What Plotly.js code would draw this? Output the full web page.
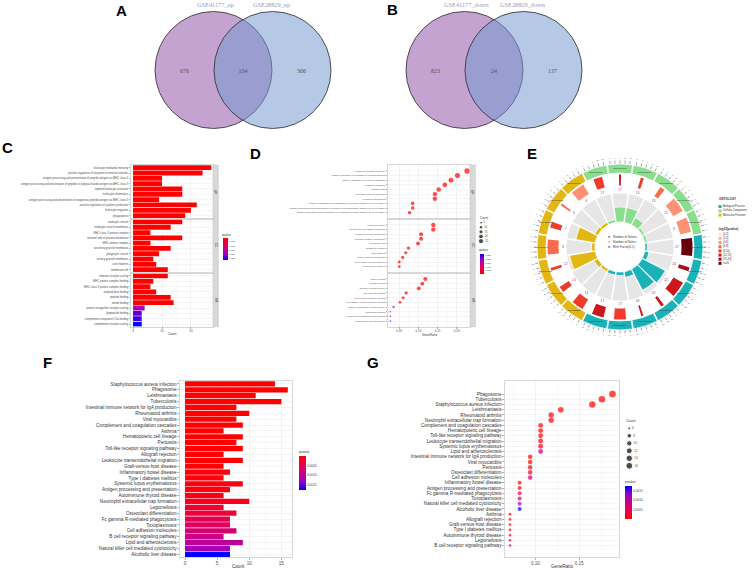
<!DOCTYPE html>
<html><head><meta charset="utf-8">
<script src="https://cdn.plot.ly/plotly-3.0.1.min.js"></script>
<style>html,body{margin:0;padding:0;background:#fff}#chart{width:753px;height:570px}</style>
</head><body><div id="chart"></div>
<script>
// ================= DATA =================
// A / B : Venn diagrams  [left only, overlap, right only]
const vennUpNames = ['GSE41177_up', 'GSE28829_up'];
const vennUpValues = [676, 104, 306];
const vennDownNames = ['GSE41177_down', 'GSE28829_down'];
const vennDownValues = [823, 24, 137];

// C : GO enrichment barplot (order as drawn, top to bottom)
const goFacetNames = ['BP', 'CC', 'MF'];
const goBPTerms = ['leukocyte mediated immunity','positive regulation of response to external stimulus','antigen processing and presentation of peptide antigen via MHC class II','antigen processing and presentation of peptide or polysaccharide antigen via MHC class II','myeloid leukocyte activation','leukocyte chemotaxis','antigen processing and presentation of exogenous peptide antigen via MHC class II','positive regulation of cytokine production','leukocyte migration','phagocytosis'];
const goBPCounts = [27, 24, 10, 10, 17, 17, 9, 22, 20, 18];
const goBPQ = [2e-12, 5e-11, 8e-11, 1e-10, 3e-10, 5e-10, 8e-10, 1e-9, 2e-9, 3e-9];
const goCCTerms = ['endocytic vesicle','endocytic vesicle membrane','MHC class II protein complex','external side of plasma membrane','MHC protein complex','secretory granule membrane','phagocytic vesicle','tertiary granule membrane','actin filament','membrane raft'];
const goCCCounts = [17, 13, 6, 17, 6, 13, 9, 7, 8, 12];
const goCCQ = [1e-9, 2e-9, 4e-9, 8e-9, 1.5e-8, 3e-8, 6e-8, 1e-7, 2e-7, 4e-7];
const goMFTerms = ['immune receptor activity','MHC protein complex binding','MHC class II protein complex binding','amyloid-beta binding','peptide binding','amide binding','pattern recognition receptor activity','lipopeptide binding','complement component C5a binding','complement receptor activity'];
const goMFCounts = [12, 7, 6, 8, 13, 14, 4, 3, 3, 3];
const goMFQ = [1e-6, 2e-6, 4e-6, 1e-5, 3e-5, 5e-5, 0.0185, 0.0228, 0.0238, 0.0268];

// D : GO dotplot (order by GeneRatio)
const dotBPTerms = ['leukocyte mediated immunity','positive regulation of response to external stimulus','positive regulation of cytokine production','leukocyte migration','phagocytosis','myeloid leukocyte activation','leukocyte chemotaxis','antigen processing and presentation of peptide antigen via MHC class II','antigen processing and presentation of peptide or polysaccharide antigen via MHC class II','antigen processing and presentation of exogenous peptide antigen via MHC class II'];
const dotBPRatio = [0.227, 0.202, 0.185, 0.169, 0.153, 0.143, 0.143, 0.085, 0.085, 0.077];
const dotCCTerms = ['endocytic vesicle','external side of plasma membrane','endocytic vesicle membrane','secretory granule membrane','membrane raft','phagocytic vesicle','actin filament','tertiary granule membrane','MHC class II protein complex','MHC protein complex'];
const dotCCRatio = [0.139, 0.139, 0.107, 0.107, 0.099, 0.074, 0.067, 0.059, 0.050, 0.050];
const dotMFTerms = ['amide binding','peptide binding','immune receptor activity','amyloid-beta binding','MHC protein complex binding','MHC class II protein complex binding','pattern recognition receptor activity','lipopeptide binding','complement component C5a binding','complement receptor activity'];
const dotMFRatio = [0.118, 0.110, 0.101, 0.068, 0.060, 0.052, 0.035, 0.027, 0.027, 0.027];
const dotCountLegend = [5, 10, 15, 20, 25];

// E : circular GO plot (clockwise)
const circIds = ['GO:0030139','GO:0009897','GO:0030666','GO:0030667','GO:0045121','GO:0030670','GO:0002443','GO:0032103','GO:0001819','GO:0050900','GO:0006909','GO:0002274','GO:0030595','GO:0033218','GO:0042277','GO:0140375','GO:0001540','GO:0023023','GO:0042605','GO:0001848'];
const circOntology = ['CC','CC','CC','CC','CC','CC','BP','BP','BP','BP','BP','BP','BP','MF','MF','MF','MF','MF','MF','MF'];
const circRich = [0.10, 0.52, 0.52, 0.28, 0.10, 0.10, 0.08, 0.15, 0.90, 0.82, 0.20, 0.12, 0.12, 0.10, 0.15, 0.90, 0.12, 0.68, 0.12, 0.10];
const circSelect = [0.45, 0.10, 0.15, 0.25, 0.75, 0.75, 0.90, 0.20, 0.80, 0.15, 0.10, 0.60, 0.60, 0.60, 0.30, 0.15, 0.75, 0.30, 0.10, 0.70];
const circPBin = [4, 5, 4, 3, 2, 2, 7, 6, 5, 5, 5, 4, 5, 4, 4, 4, 3, 4, 3, 2];
const circCount = [17, 17, 13, 13, 12, 6, 27, 24, 22, 20, 18, 17, 17, 14, 13, 12, 8, 7, 6, 4];
const ontologyNames = ['Biological Process', 'Cellular Component', 'Molecular Function'];
const ontologyKeys = ['BP', 'CC', 'MF'];
const pBinLabels = ['(0,2]', '(2,4]', '(4,6]', '(6,8]', '(8,10]', '(10,15]', '(15,20]', '>=20'];
const centerLegend = ['Number of Genes', 'Number of Select', 'Rich Factor(0-1)'];

// F / G : KEGG enrichment (F order, top to bottom)
const keggTerms = ['Staphylococcus aureus infection','Phagosome','Leishmaniasis','Tuberculosis','Intestinal immune network for IgA production','Rheumatoid arthritis','Viral myocarditis','Complement and coagulation cascades','Asthma','Hematopoietic cell lineage','Pertussis','Toll-like receptor signaling pathway','Allograft rejection','Leukocyte transendothelial migration','Graft-versus-host disease','Inflammatory bowel disease','Type I diabetes mellitus','Systemic lupus erythematosus','Antigen processing and presentation','Autoimmune thyroid disease','Neutrophil extracellular trap formation','Legionellosis','Osteoclast differentiation','Fc gamma R-mediated phagocytosis','Toxoplasmosis','Cell adhesion molecules','B cell receptor signaling pathway','Lipid and atherosclerosis','Natural killer cell mediated cytotoxicity','Alcoholic liver disease'];
const keggCounts = [14, 16, 11, 15, 8, 10, 8, 9, 6, 9, 8, 9, 6, 9, 6, 7, 6, 9, 7, 6, 10, 6, 8, 7, 7, 8, 6, 9, 7, 7];
const keggRatio = [0.165, 0.188, 0.129, 0.176, 0.094, 0.118, 0.094, 0.106, 0.071, 0.106, 0.094, 0.106, 0.071, 0.106, 0.071, 0.082, 0.071, 0.106, 0.082, 0.071, 0.118, 0.071, 0.094, 0.082, 0.082, 0.094, 0.071, 0.106, 0.082, 0.082];
const keggPvalue = [1e-9, 2e-9, 5e-8, 1e-7, 3e-7, 5e-7, 1e-6, 2e-6, 4e-6, 6e-6, 9e-6, 1.2e-5, 2e-5, 2.5e-5, 3.5e-5, 5e-5, 6e-5, 7e-5, 9e-5, 1.2e-4, 1.5e-4, 2.5e-4, 3.2e-4, 4.5e-4, 5.5e-4, 7e-4, 8.5e-4, 1.0e-3, 1.2e-3, 1.76e-3];
const keggDotOrder = ['Phagosome','Tuberculosis','Staphylococcus aureus infection','Leishmaniasis','Rheumatoid arthritis','Neutrophil extracellular trap formation','Complement and coagulation cascades','Hematopoietic cell lineage','Toll-like receptor signaling pathway','Leukocyte transendothelial migration','Systemic lupus erythematosus','Lipid and atherosclerosis','Intestinal immune network for IgA production','Viral myocarditis','Pertussis','Osteoclast differentiation','Cell adhesion molecules','Inflammatory bowel disease','Antigen processing and presentation','Fc gamma R-mediated phagocytosis','Toxoplasmosis','Natural killer cell mediated cytotoxicity','Alcoholic liver disease','Asthma','Allograft rejection','Graft-versus-host disease','Type I diabetes mellitus','Autoimmune thyroid disease','Legionellosis','B cell receptor signaling pathway'];
const keggCountLegend = [6, 8, 10, 12, 14, 16];

// ================= HELPERS / STYLE =================
const W = 753, H = 570;
const PX = v => v / W;
const PY = v => 1 - v / H;
const domX = (a, b) => [a / W, b / W];
const domY = (top, bot) => [1 - bot / H, 1 - top / H];
const FONT = 'Arial, "Liberation Sans", sans-serif';
const SERIF = '"Times New Roman", "Liberation Serif", serif';
const RB = [[0,'#FF0000'],[0.25,'#E8004F'],[0.5,'#CA0088'],[0.75,'#9A00C3'],[1,'#0000FF']];
const BR = RB.map(([t, c]) => [1 - t, c]).reverse();
const ontoColor = {BP: '#1ab1b7', CC: '#8ade8d', MF: '#e2b714'};
const pBinColors = ['#fee0d2','#fcbba1','#fc9272','#fb6a4a','#ef3b2c','#cb181d','#a50f15','#67000d'];

const traces = [];
const annotations = [];
const shapes = [];
function ann(text, x, y, size, extra) {
  annotations.push(Object.assign({text, x: PX(x), y: PY(y), xref: 'paper', yref: 'paper', showarrow: false,
    font: {size, family: FONT, color: '#333'}, xanchor: 'center', yanchor: 'middle'}, extra || {}));
}
const baseAx = {showline: true, mirror: true, linecolor: '#bdbdbd', linewidth: 0.6, gridcolor: '#ebebeb', gridwidth: 0.5,
  zeroline: false, ticks: 'outside', ticklen: 1.5, tickwidth: 0.5, tickcolor: '#666', fixedrange: true};
const layout = {
  width: W, height: H, margin: {l: 0, r: 0, t: 0, b: 0}, paper_bgcolor: '#fff', plot_bgcolor: 'rgba(0,0,0,0)',
  showlegend: false, font: {family: FONT, color: '#333'}, bargap: 0.1
};

// ================= A / B : Venn =================
const vennGeo = [
  {names: vennUpNames, vals: vennUpValues, c1: 213.5, c2: 272.5, cy: 70, r: 58.5},
  {names: vennDownNames, vals: vennDownValues, c1: 464.5, c2: 523.5, cy: 70, r: 58.5}
];
vennGeo.forEach(g => {
  shapes.push({type: 'circle', xref: 'x9', yref: 'y9', x0: g.c1 - g.r, x1: g.c1 + g.r, y0: g.cy - g.r, y1: g.cy + g.r,
    fillcolor: '#c5a3d0', line: {color: '#2b2b2b', width: 0.8}, layer: 'below'});
  shapes.push({type: 'circle', xref: 'x9', yref: 'y9', x0: g.c2 - g.r, x1: g.c2 + g.r, y0: g.cy - g.r, y1: g.cy + g.r,
    fillcolor: 'rgba(116,152,208,0.53)', line: {color: '#2b2b2b', width: 0.8}, layer: 'below'});
  const xs = [((g.c1 - g.r) + (g.c2 - g.r)) / 2, ((g.c2 - g.r) + (g.c1 + g.r)) / 2, ((g.c1 + g.r) + (g.c2 + g.r)) / 2];
  traces.push({type: 'scatter', mode: 'text', x: xs, y: [g.cy + 1, g.cy + 1, g.cy + 1], text: g.vals.map(String),
    textfont: {size: 6, family: SERIF, color: '#555'}, xaxis: 'x9', yaxis: 'y9', hoverinfo: 'skip'});
  ann(g.names[0], g.c1 + 2, 4.5, 6.3, {font: {size: 6.3, family: SERIF, color: '#9a98b4'}});
  ann(g.names[1], g.c2 - 1, 4.5, 6.3, {font: {size: 6.3, family: SERIF, color: '#9a98b4'}});
});

// ================= C : GO barplot =================
const facetY = [[165, 218.3], [219.3, 272.3], [273.3, 326.7]];
const cFacets = [
  {terms: goBPTerms, counts: goBPCounts, q: goBPQ},
  {terms: goCCTerms, counts: goCCCounts, q: goCCQ},
  {terms: goMFTerms, counts: goMFCounts, q: goMFQ}
];
const allQ = [].concat(goBPQ, goCCQ, goMFQ);
const qMin = Math.min(...allQ), qMax = Math.max(...allQ);
const qTicks = [0.005, 0.010, 0.015, 0.020, 0.025];
const termCount = {}, termQ = {};
cFacets.forEach(f => f.terms.forEach((t, i) => { termCount[t] = f.counts[i]; termQ[t] = f.q[i]; }));

cFacets.forEach((f, i) => {
  const n = 3 + i;
  traces.push({type: 'bar', orientation: 'h', x: f.counts, y: f.terms, xaxis: 'x' + n, yaxis: 'y' + n, hoverinfo: 'x+y',
    marker: {color: f.q.map(v => -v), colorscale: BR, cmin: -qMax, cmax: -qMin, showscale: i === 0,
      colorbar: {x: PX(222.7), xanchor: 'left', y: PY(237.5), yanchor: 'top', len: 21.5, lenmode: 'pixels',
        thickness: 4.6, thicknessmode: 'pixels', outlinewidth: 0, xpad: 0, ypad: 0, ticks: '',
        tickmode: 'array', tickvals: qTicks.map(v => -v), ticktext: qTicks.map(v => v.toFixed(3)),
        tickfont: {size: 2.4, color: '#444'}}}});
  layout['xaxis' + n] = Object.assign({}, baseAx, {domain: domX(131, 213), range: [-0.7, 27.6], anchor: 'y' + n,
    tickvals: [0, 10, 20], showticklabels: i === 2, tickfont: {size: 3, color: '#4d4d4d'},
    minor: {dtick: 5, showgrid: true, gridcolor: '#f4f4f4', gridwidth: 0.4}});
  layout['yaxis' + n] = Object.assign({}, baseAx, {domain: domY(facetY[i][0], facetY[i][1]), anchor: 'x' + n,
    type: 'category', categoryorder: 'array', categoryarray: f.terms, autorange: 'reversed',
    tickmode: 'array', tickvals: f.terms, ticktext: f.terms, tickfont: {size: 2.7, color: '#4d4d4d'}});
  shapes.push({type: 'rect', xref: 'paper', yref: 'paper', x0: PX(213), x1: PX(218.3), y0: PY(facetY[i][1]), y1: PY(facetY[i][0]),
    fillcolor: '#d9d9d9', line: {color: '#bdbdbd', width: 0.5}});
  ann(goFacetNames[i], 215.7, (facetY[i][0] + facetY[i][1]) / 2, 3, {textangle: 90});
});
ann('Count', 172, 334, 3.2);
ann('qvalue', 226, 234.5, 3);

// ================= D : GO dotplot =================
const dFacets = [
  {terms: dotBPTerms, ratio: dotBPRatio},
  {terms: dotCCTerms, ratio: dotCCRatio},
  {terms: dotMFTerms, ratio: dotMFRatio}
];
const allDotCounts = Object.values(termCount);
const dcMin = Math.min(...allDotCounts), dcMax = Math.max(...allDotCounts);
const dotSizeD = c => 1.5 + 3.8 * Math.sqrt(Math.max(0, c - dcMin) / (dcMax - dcMin));
dFacets.forEach((f, i) => {
  const n = 6 + i;
  traces.push({type: 'scatter', mode: 'markers', x: f.ratio, y: f.terms, xaxis: 'x' + n, yaxis: 'y' + n, hoverinfo: 'x+y',
    marker: {size: f.terms.map(t => dotSizeD(termCount[t])), color: f.terms.map(t => termQ[t]), colorscale: RB,
      cmin: qMin, cmax: qMax, line: {width: 0}, showscale: i === 0,
      colorbar: {x: PX(479.7), xanchor: 'left', y: PY(254.3), yanchor: 'top', len: 19.7, lenmode: 'pixels',
        thickness: 4, thicknessmode: 'pixels', outlinewidth: 0, xpad: 0, ypad: 0, ticks: '',
        tickmode: 'array', tickvals: qTicks, ticktext: qTicks.map(v => v.toFixed(3)), tickfont: {size: 2.4, color: '#444'}}}});
  layout['xaxis' + n] = Object.assign({}, baseAx, {domain: domX(388, 470), range: [0.0206, 0.2347], anchor: 'y' + n,
    tickvals: [0.05, 0.10, 0.15, 0.20], ticktext: ['0.05', '0.10', '0.15', '0.20'], showticklabels: i === 2,
    tickfont: {size: 3, color: '#4d4d4d'}, minor: {dtick: 0.025, showgrid: true, gridcolor: '#f4f4f4', gridwidth: 0.4}});
  layout['yaxis' + n] = Object.assign({}, baseAx, {domain: domY(facetY[i][0], facetY[i][1]), anchor: 'x' + n,
    type: 'category', categoryorder: 'array', categoryarray: f.terms, autorange: 'reversed',
    tickmode: 'array', tickvals: f.terms, ticktext: f.terms, tickfont: {size: 2.4, color: '#4d4d4d'}});
  shapes.push({type: 'rect', xref: 'paper', yref: 'paper', x0: PX(470), x1: PX(475.3), y0: PY(facetY[i][1]), y1: PY(facetY[i][0]),
    fillcolor: '#d9d9d9', line: {color: '#bdbdbd', width: 0.5}});
  ann(goFacetNames[i], 472.7, (facetY[i][0] + facetY[i][1]) / 2, 3, {textangle: 90});
});
ann('GeneRatio', 429, 334.5, 3.2);
ann('Count', 483.5, 218.3, 3);
ann('qvalue', 483.5, 250.5, 3);
traces.push({type: 'scatter', mode: 'markers+text', x: dotCountLegend.map(() => 481), y: dotCountLegend.map((c, i) => 222.7 + i * 4.6),
  marker: {size: dotCountLegend.map(dotSizeD), color: '#000'}, text: dotCountLegend.map(String), textposition: 'middle right',
  textfont: {size: 2.6, color: '#444'}, xaxis: 'x9', yaxis: 'y9', hoverinfo: 'skip', cliponaxis: false});

// ================= E : circular GO plot =================
const sectorTheta = circIds.map((_, i) => i * 18 - 18);
traces.push({type: 'barpolar', r: circIds.map(() => 9), base: circIds.map(() => 74), theta: sectorTheta, width: circIds.map(() => 17.4),
  marker: {color: circOntology.map(o => ontoColor[o]), line: {color: '#ffffff', width: 0.8}}, hoverinfo: 'skip'});
traces.push({type: 'barpolar', r: circIds.map(() => 29), base: circIds.map(() => 25), theta: sectorTheta, width: circIds.map(() => 17),
  marker: {color: '#e6e6e6', line: {color: '#ffffff', width: 0.8}}, hoverinfo: 'skip'});
traces.push({type: 'barpolar', r: circRich.map(v => 29 * v), base: circIds.map(() => 25), theta: sectorTheta, width: circIds.map(() => 17),
  marker: {color: circOntology.map(o => ontoColor[o]), line: {color: '#ffffff', width: 0.8}}, hoverinfo: 'skip'});
traces.push({type: 'barpolar', r: circIds.map(() => 11), base: circIds.map(() => 61.5), theta: sectorTheta, width: circSelect.map(v => 16 * v),
  marker: {color: circPBin.map(b => pBinColors[b]), line: {width: 0}}, hoverinfo: 'skip'});
// outer tick marks
const tkR = [], tkT = [];
sectorTheta.forEach(c => { for (let k = -2; k <= 2; k++) { tkR.push(83.5, 86.5, null); tkT.push(c + k * 3.4, c + k * 3.4, null); } });
traces.push({type: 'scatterpolar', mode: 'lines', r: tkR, theta: tkT, line: {color: '#444', width: 0.5}, hoverinfo: 'skip', connectgaps: false});
const tnR = [], tnT = [], tnS = [];
sectorTheta.forEach((c, i) => { for (let k = -2; k <= 2; k++) { tnR.push(89); tnT.push(c + k * 3.4); tnS.push(String(Math.round((k + 2) * circCount[i] / 4))); } });
traces.push({type: 'scatterpolar', mode: 'text', r: tnR, theta: tnT, text: tnS, textfont: {size: 2.1, color: '#555'}, hoverinfo: 'skip'});
traces.push({type: 'scatterpolar', mode: 'text', r: circIds.map(() => 78.5), theta: sectorTheta, text: circIds,
  textfont: {size: 2.4, color: '#333'}, hoverinfo: 'skip'});
traces.push({type: 'scatterpolar', mode: 'text', r: circIds.map(() => 57), theta: sectorTheta, text: circCount.map(String),
  textfont: {size: 3.2, color: '#7b3f9e'}, hoverinfo: 'skip'});
layout.polar = {domain: {x: domX(530, 710), y: domY(157, 337)}, bgcolor: 'rgba(0,0,0,0)', hole: 0, bargap: 0,
  radialaxis: {visible: false, range: [0, 90]}, angularaxis: {visible: false, rotation: 90, direction: 'clockwise'}};
const centerColors = ['#8e5fb3', '#f4a6c8', '#5b6fd0'];
centerLegend.forEach((t, i) => {
  ann('■', 609, 237 + i * 5, 3.4, {font: {size: 3.4, color: centerColors[i], family: FONT}});
  ann(t, 611, 237 + i * 5, 3, {xanchor: 'left'});
});
ann('<b>ONTOLOGY</b>', 727, 199, 3);
traces.push({type: 'scatter', mode: 'markers+text', x: ontologyKeys.map(() => 720), y: ontologyKeys.map((k, i) => 206.5 + i * 4.3),
  marker: {symbol: 'square', size: 3, color: ontologyKeys.map(k => ontoColor[k])}, text: ontologyNames, textposition: 'middle right',
  textfont: {size: 2.7, color: '#333'}, xaxis: 'x9', yaxis: 'y9', hoverinfo: 'skip', cliponaxis: false});
ann('<b>-log10(pvalue)</b>', 728, 229, 3);
traces.push({type: 'scatter', mode: 'markers+text', x: pBinLabels.map(() => 720), y: pBinLabels.map((b, i) => 234.3 + i * 4.15),
  marker: {symbol: 'square', size: 3, color: pBinColors}, text: pBinLabels, textposition: 'middle right',
  textfont: {size: 2.7, color: '#333'}, xaxis: 'x9', yaxis: 'y9', hoverinfo: 'skip', cliponaxis: false});

// ================= F : KEGG barplot =================
const pMin = Math.min(...keggPvalue), pMax = Math.max(...keggPvalue);
const pTicks = [0.0005, 0.0010, 0.0015];
traces.push({type: 'bar', orientation: 'h', x: keggCounts, y: keggTerms, xaxis: 'x', yaxis: 'y', hoverinfo: 'x+y',
  marker: {color: keggPvalue.map(v => -v), colorscale: BR, cmin: -pMax, cmax: -pMin, showscale: true,
    colorbar: {x: PX(299), xanchor: 'left', y: PY(456), yanchor: 'top', len: 34, lenmode: 'pixels', thickness: 7,
      thicknessmode: 'pixels', outlinewidth: 0, xpad: 0, ypad: 0, ticks: '', tickmode: 'array',
      tickvals: pTicks.map(v => -v), ticktext: pTicks.map(v => v.toFixed(4)), tickfont: {size: 3.2, color: '#444'}}}});
layout.xaxis = Object.assign({}, baseAx, {domain: domX(180, 292.3), range: [-0.78, 16.7], anchor: 'y', tickvals: [0, 5, 10, 15],
  tickfont: {size: 4.6, color: '#4d4d4d'}, ticklen: 2, minor: {dtick: 2.5, showgrid: true, gridcolor: '#f4f4f4', gridwidth: 0.5}});
layout.yaxis = Object.assign({}, baseAx, {domain: domY(381, 557.3), anchor: 'x', type: 'category', categoryorder: 'array',
  categoryarray: keggTerms, autorange: 'reversed', tickmode: 'array', tickvals: keggTerms, ticktext: keggTerms,
  ticklen: 2, tickfont: {size: 4.6, color: '#333'}});
ann('Count', 238, 566, 4.6);
ann('pvalue', 304, 451.5, 3.6);

// ================= G : KEGG dotplot =================
const kcMin = Math.min(...keggCounts), kcMax = Math.max(...keggCounts);
const dotSizeG = c => 2.7 + 4.1 * Math.sqrt(Math.max(0, c - kcMin) / (kcMax - kcMin));
traces.push({type: 'scatter', mode: 'markers', x: keggRatio, y: keggTerms, xaxis: 'x2', yaxis: 'y2', hoverinfo: 'x+y',
  marker: {size: keggCounts.map(dotSizeG), color: keggPvalue, colorscale: RB, cmin: pMin, cmax: pMax, line: {width: 0}, showscale: true,
    colorbar: {x: PX(625), xanchor: 'left', y: PY(486), yanchor: 'top', len: 33, lenmode: 'pixels', thickness: 6.5,
      thicknessmode: 'pixels', outlinewidth: 0, xpad: 0, ypad: 0, ticks: '', tickmode: 'array',
      tickvals: pTicks, ticktext: pTicks.map(v => v.toFixed(4)), tickfont: {size: 3.2, color: '#444'}}}});
layout.xaxis2 = Object.assign({}, baseAx, {domain: domX(505, 619.3), range: [0.0653, 0.1958], anchor: 'y2',
  tickvals: [0.10, 0.15], ticktext: ['0.10', '0.15'], tickfont: {size: 4.6, color: '#4d4d4d'}, ticklen: 2,
  minor: {dtick: 0.025, showgrid: true, gridcolor: '#f4f4f4', gridwidth: 0.5}});
layout.yaxis2 = Object.assign({}, baseAx, {domain: domY(381, 557.3), anchor: 'x2', type: 'category', categoryorder: 'array',
  categoryarray: keggDotOrder, autorange: 'reversed', tickmode: 'array', tickvals: keggDotOrder, ticktext: keggDotOrder,
  ticklen: 2, tickfont: {size: 4.6, color: '#333'}});
ann('GeneRatio', 561.7, 566, 4.6);
ann('Count', 631, 421, 3.6);
ann('pvalue', 630, 481.7, 3.6);
traces.push({type: 'scatter', mode: 'markers+text', x: keggCountLegend.map(() => 629.3), y: keggCountLegend.map((c, i) => 428.3 + i * 7.5),
  marker: {size: keggCountLegend.map(dotSizeG), color: '#000'}, text: keggCountLegend.map(String), textposition: 'middle right',
  textfont: {size: 3, color: '#444'}, xaxis: 'x9', yaxis: 'y9', hoverinfo: 'skip', cliponaxis: false});

// ================= overlay pixel axes =================
layout.xaxis9 = {domain: [0, 1], range: [0, W], visible: false, fixedrange: true, anchor: 'y9'};
layout.yaxis9 = {domain: [0, 1], range: [H, 0], visible: false, fixedrange: true, anchor: 'x9'};

// panel letters
[['A', 121, 10.5], ['B', 392.5, 9.5], ['C', 7, 147], ['D', 256, 154], ['E', 532, 154], ['F', 47.5, 362.5], ['G', 372.5, 362.5]]
  .forEach(([t, x, y]) => ann('<b>' + t + '</b>', x, y, 15, {font: {size: 15, family: FONT, color: '#000'}}));

layout.annotations = annotations;
layout.shapes = shapes;
Plotly.newPlot('chart', traces, layout, {staticPlot: true, displayModeBar: false});
</script></body></html>
